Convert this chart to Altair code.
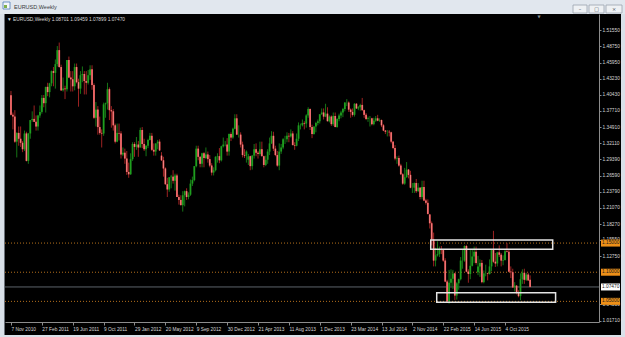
import altair as alt
import pandas as pd

# ---------------- data (EURUSD weekly) ----------------
opens = [1.4035,1.3700,1.3670,1.3240,1.3390,1.3290,1.3220,1.3110,1.3380,1.2910,
1.3380,1.3610,1.3630,1.3580,1.3500,1.3690,1.3750,1.3990,1.3900,1.4180,
1.4090,1.4240,1.4450,1.4420,1.4570,1.4810,1.4520,1.4120,1.4150,1.4140,
1.4640,1.4340,1.4310,1.4190,1.4520,1.4260,1.4150,1.4380,1.4400,1.4280,
1.4250,1.4380,1.4480,1.4210,1.3650,1.3790,1.3490,1.3390,1.3380,1.3880,
1.3900,1.4140,1.3780,1.3760,1.3520,1.3240,1.3390,1.3380,1.3020,1.3050,
1.2950,1.2720,1.2680,1.2940,1.3200,1.3150,1.3190,1.3140,1.3440,1.3200,
1.3110,1.3170,1.3270,1.3340,1.3100,1.3070,1.3210,1.3240,1.3000,1.2920,
1.2780,1.2510,1.2420,1.2630,1.2640,1.2570,1.2660,1.2290,1.2240,1.2150,
1.2320,1.2390,1.2290,1.2330,1.2520,1.2580,1.2820,1.3120,1.2980,1.2860,
1.3040,1.2960,1.3020,1.2940,1.2830,1.2710,1.2750,1.2980,1.2990,1.2920,
1.3160,1.3190,1.3190,1.3070,1.3370,1.3310,1.3460,1.3640,1.3360,1.3360,
1.3190,1.3010,1.3000,1.2930,1.2990,1.2820,1.3000,1.3110,1.3050,1.3030,
1.3110,1.2990,1.2840,1.2930,1.3070,1.3210,1.3340,1.3120,1.3010,1.2830,
1.3070,1.3140,1.3280,1.3280,1.3340,1.3330,1.3380,1.3180,1.3170,1.3290,
1.3520,1.3520,1.3560,1.3550,1.3690,1.3800,1.3490,1.3370,1.3500,1.3560,
1.3590,1.3710,1.3740,1.3670,1.3720,1.3590,1.3670,1.3540,1.3680,1.3490,
1.3630,1.3690,1.3740,1.3800,1.3910,1.3910,1.3790,1.3750,1.3700,1.3890,
1.3810,1.3830,1.3870,1.3780,1.3700,1.3630,1.3640,1.3640,1.3540,1.3600,
1.3640,1.3600,1.3610,1.3520,1.3430,1.3410,1.3410,1.3400,1.3240,1.3130,
1.2950,1.2960,1.2830,1.2680,1.2520,1.2630,1.2760,1.2670,1.2450,1.2450,
1.2530,1.2390,1.2450,1.2290,1.2460,1.2230,1.2190,1.1990,1.1840,1.1560,
1.1200,1.1290,1.1310,1.1390,1.1380,1.1200,1.0840,1.0500,1.0820,1.0890,
1.0980,1.0600,1.0810,1.0880,1.1200,1.1200,1.1450,1.1010,1.0970,1.1110,
1.1270,1.1350,1.1000,1.1100,1.1160,1.0830,1.0980,1.0980,1.0970,1.1100,
1.1380,1.1180,1.1150,1.1340,1.1300,1.1200,1.1210,1.1360,1.1350,1.1010,
1.1000,1.0740,1.0770,1.0650,1.0590,1.0880,1.0990,1.0870,1.0960,1.0870]

highs = [1.4110,1.3740,1.3780,1.3400,1.3500,1.3500,1.3250,1.3430,1.3410,1.3390,
1.3610,1.3760,1.3860,1.3690,1.3700,1.3860,1.4040,1.4040,1.4180,1.4250,
1.4250,1.4460,1.4520,1.4650,1.4880,1.4940,1.4560,1.4340,1.4200,1.4640,
1.4700,1.4450,1.4450,1.4580,1.4580,1.4320,1.4450,1.4530,1.4450,1.4450,
1.4470,1.4550,1.4550,1.4240,1.3920,1.3850,1.3670,1.3450,1.3910,1.3910,
1.4250,1.4170,1.3850,1.3800,1.3550,1.3550,1.3550,1.3420,1.3140,1.3120,
1.3080,1.2880,1.3040,1.3230,1.3230,1.3320,1.3250,1.3480,1.3490,1.3290,
1.3180,1.3290,1.3390,1.3390,1.3210,1.3210,1.3270,1.3280,1.3060,1.2980,
1.2800,1.2620,1.2630,1.2670,1.2750,1.2690,1.2690,1.2330,1.2320,1.2390,
1.2400,1.2440,1.2370,1.2590,1.2640,1.2820,1.3170,1.3170,1.2990,1.3050,
1.3060,1.3140,1.3070,1.3010,1.2870,1.2800,1.2990,1.3040,1.3130,1.3170,
1.3310,1.3250,1.3300,1.3380,1.3400,1.3480,1.3710,1.3710,1.3520,1.3400,
1.3240,1.3110,1.3090,1.3030,1.3000,1.3010,1.3200,1.3210,1.3080,1.3240,
1.3240,1.3000,1.3000,1.3110,1.3310,1.3420,1.3410,1.3170,1.3080,1.3210,
1.3200,1.3300,1.3340,1.3400,1.3390,1.3450,1.3420,1.3230,1.3380,1.3570,
1.3550,1.3620,1.3590,1.3710,1.3830,1.3810,1.3530,1.3500,1.3580,1.3620,
1.3710,1.3810,1.3810,1.3890,1.3830,1.3690,1.3690,1.3740,1.3740,1.3640,
1.3720,1.3770,1.3820,1.3920,1.3970,1.3930,1.3810,1.3810,1.3900,1.3900,
1.3850,1.3890,1.3990,1.3790,1.3730,1.3670,1.3680,1.3650,1.3650,1.3680,
1.3700,1.3640,1.3620,1.3540,1.3440,1.3440,1.3440,1.3410,1.3250,1.3180,
1.2990,1.3000,1.2860,1.2700,1.2790,1.2890,1.2770,1.2740,1.2530,1.2540,
1.2600,1.2530,1.2460,1.2570,1.2570,1.2260,1.2250,1.2000,1.1870,1.1680,
1.1420,1.1530,1.1440,1.1450,1.1390,1.1240,1.0870,1.1040,1.1050,1.1040,
1.0990,1.0830,1.0890,1.1260,1.1390,1.1460,1.1470,1.1050,1.1380,1.1390,
1.1440,1.1440,1.1280,1.1220,1.1210,1.1030,1.1130,1.0990,1.1220,1.1390,
1.1710,1.1330,1.1350,1.1460,1.1330,1.1290,1.1390,1.1500,1.1390,1.1100,
1.1060,1.0830,1.0780,1.0690,1.0980,1.1050,1.1060,1.0990,1.0990,1.0946]

lows = [1.3690,1.3450,1.3220,1.2969,1.3170,1.3150,1.3060,1.3080,1.2900,1.2860,
1.3290,1.3580,1.3580,1.3430,1.3430,1.3650,1.3720,1.3830,1.3740,1.4020,
1.4000,1.4190,1.4190,1.4150,1.4530,1.4510,1.4110,1.4100,1.3970,1.4100,
1.4330,1.4100,1.4100,1.4120,1.4240,1.3840,1.4060,1.4260,1.4050,1.4050,
1.4220,1.4300,1.4130,1.3630,1.3500,1.3360,1.3360,1.3140,1.3340,1.3650,
1.3790,1.3610,1.3480,1.3430,1.3210,1.3230,1.3260,1.2950,1.2990,1.2860,
1.2670,1.2620,1.2670,1.2910,1.2980,1.3100,1.2980,1.3140,1.3130,1.3080,
1.2990,1.3130,1.3260,1.3080,1.3000,1.3000,1.3110,1.3080,1.2910,1.2640,
1.2500,1.2290,1.2380,1.2440,1.2520,1.2400,1.2290,1.2160,1.2150,1.2040,
1.2130,1.2240,1.2250,1.2310,1.2480,1.2560,1.2800,1.2920,1.2800,1.2800,
1.2800,1.2940,1.2880,1.2800,1.2660,1.2660,1.2730,1.2880,1.2870,1.2900,
1.3140,1.3160,1.3000,1.3000,1.3250,1.3290,1.3450,1.3360,1.3310,1.3140,
1.2970,1.2960,1.2880,1.2840,1.2750,1.2760,1.2950,1.2990,1.2950,1.3000,
1.2990,1.2800,1.2820,1.2860,1.3010,1.3200,1.3080,1.2990,1.2810,1.2750,
1.3030,1.3110,1.3200,1.3230,1.3230,1.3310,1.3180,1.3100,1.3160,1.3250,
1.3450,1.3500,1.3450,1.3480,1.3650,1.3440,1.3300,1.3360,1.3400,1.3520,
1.3550,1.3700,1.3620,1.3660,1.3590,1.3570,1.3510,1.3510,1.3490,1.3480,
1.3590,1.3640,1.3660,1.3760,1.3850,1.3750,1.3650,1.3670,1.3670,1.3800,
1.3780,1.3770,1.3770,1.3650,1.3610,1.3580,1.3500,1.3520,1.3520,1.3580,
1.3590,1.3580,1.3490,1.3420,1.3370,1.3330,1.3330,1.3210,1.3110,1.2920,
1.2860,1.2810,1.2670,1.2500,1.2500,1.2620,1.2610,1.2440,1.2360,1.2360,
1.2360,1.2380,1.2250,1.2250,1.2220,1.2160,1.1990,1.1750,1.1460,1.1100,
1.1100,1.1270,1.1260,1.1310,1.1180,1.0830,1.0490,1.0460,1.0760,1.0710,
1.0520,1.0530,1.0700,1.0860,1.1060,1.1180,1.1000,1.0820,1.0880,1.1100,
1.1160,1.1130,1.0950,1.0920,1.0810,1.0810,1.0930,1.0860,1.0960,1.1020,
1.1160,1.1090,1.1100,1.1260,1.1100,1.1120,1.1200,1.1340,1.1000,1.0900,
1.0730,1.0670,1.0620,1.0570,1.0520,1.0800,1.0800,1.0850,1.0850,1.0740]

closes = [1.3700,1.3670,1.3240,1.3390,1.3290,1.3220,1.3110,1.3380,1.2910,1.3380,
1.3610,1.3630,1.3580,1.3500,1.3690,1.3750,1.3990,1.3900,1.4180,1.4090,
1.4240,1.4450,1.4420,1.4570,1.4810,1.4520,1.4120,1.4150,1.4140,1.4640,
1.4340,1.4310,1.4190,1.4520,1.4260,1.4150,1.4380,1.4400,1.4280,1.4250,
1.4380,1.4480,1.4210,1.3650,1.3790,1.3490,1.3390,1.3380,1.3880,1.3900,
1.4140,1.3780,1.3760,1.3520,1.3240,1.3390,1.3380,1.3020,1.3050,1.2950,
1.2720,1.2680,1.2940,1.3200,1.3150,1.3190,1.3140,1.3440,1.3200,1.3110,
1.3170,1.3270,1.3340,1.3100,1.3070,1.3210,1.3240,1.3090,1.2920,1.2780,
1.2510,1.2420,1.2630,1.2640,1.2570,1.2660,1.2290,1.2240,1.2150,1.2320,
1.2390,1.2290,1.2330,1.2520,1.2580,1.2820,1.3120,1.2980,1.2860,1.3040,
1.2960,1.3020,1.2940,1.2830,1.2710,1.2750,1.2980,1.2990,1.2920,1.3160,
1.3190,1.3190,1.3070,1.3370,1.3310,1.3460,1.3640,1.3360,1.3360,1.3190,
1.3010,1.3000,1.3070,1.2990,1.2820,1.3000,1.3110,1.3050,1.3030,1.3110,
1.2990,1.2840,1.2930,1.3070,1.3210,1.3340,1.3120,1.3010,1.2830,1.3070,
1.3140,1.3280,1.3280,1.3340,1.3330,1.3380,1.3180,1.3170,1.3290,1.3520,
1.3520,1.3560,1.3550,1.3690,1.3800,1.3490,1.3370,1.3500,1.3560,1.3590,
1.3710,1.3740,1.3670,1.3720,1.3590,1.3670,1.3540,1.3680,1.3490,1.3630,
1.3690,1.3740,1.3800,1.3910,1.3910,1.3790,1.3750,1.3700,1.3890,1.3810,
1.3830,1.3870,1.3780,1.3700,1.3630,1.3640,1.3640,1.3540,1.3600,1.3640,
1.3600,1.3610,1.3520,1.3430,1.3410,1.3410,1.3400,1.3240,1.3130,1.2950,
1.2960,1.2830,1.2680,1.2520,1.2630,1.2760,1.2670,1.2450,1.2450,1.2530,
1.2390,1.2450,1.2290,1.2460,1.2230,1.2190,1.2000,1.1840,1.1560,1.1200,
1.1290,1.1310,1.1390,1.1380,1.1200,1.0840,1.0500,1.0820,1.0890,1.0980,
1.0600,1.0810,1.0880,1.1200,1.1200,1.1450,1.1010,1.0970,1.1110,1.1270,
1.1350,1.1160,1.1100,1.1160,1.0830,1.0980,1.0980,1.0970,1.1100,1.1380,
1.1180,1.1150,1.1340,1.1300,1.1200,1.1210,1.1360,1.1350,1.1010,1.1000,
1.0740,1.0770,1.0650,1.0590,1.0880,1.0990,1.0870,1.0960,1.0860,1.0747]

date_labels = ["7 Nov 2010", "27 Feb 2011", "19 Jun 2011", "9 Oct 2011", "29 Jan 2012",
               "20 May 2012", "9 Sep 2012", "30 Dec 2012", "21 Apr 2013", "11 Aug 2013",
               "1 Dec 2013", "23 Mar 2014", "13 Jul 2014", "2 Nov 2014", "22 Feb 2015",
               "14 Jun 2015", "4 Oct 2015"]
date_ticks = [0, 16, 32, 48, 64, 80, 96, 112, 128, 144, 160, 176, 192, 208, 224, 240, 256]
price_ticks = [1.5155, 1.4875, 1.4595, 1.4323, 1.4043, 1.3771, 1.3491, 1.3211, 1.2939,
               1.2659, 1.2379, 1.2107, 1.1827, 1.1555, 1.1275, 1.0451, 1.0171]
level_prices = [1.15, 1.10, 1.05]
current_price = 1.0747
zone_start = [217.5, 220.6]
zone_end = [280.7, 282.2]
zone_top = [1.1553, 1.0649]
zone_bottom = [1.1394, 1.0484]
header_text = "\u25bc EURUSD,Weekly  1.08701 1.09459 1.07899 1.07470"
window_title = "EURUSD,Weekly"

# ---------------- tables ----------------
n = len(closes)
candles = pd.DataFrame({"i": list(range(n)), "open": opens, "high": highs,
                        "low": lows, "close": closes})
candles["dir"] = ["bull" if c >= o else "bear" for o, c in zip(opens, closes)]
levels = pd.DataFrame({"price": level_prices})
zones = pd.DataFrame({"x0": zone_start, "x1": zone_end, "top": zone_top, "bot": zone_bottom})
tags = pd.DataFrame({
    "price": level_prices + [current_price],
    "label": ["%.5f" % p for p in level_prices] + ["%.5f" % current_price],
    "kind": ["level", "level", "level", "bid"],
})
one = pd.DataFrame({"k": [0]})

W, H = 594, 308
FONT = "Liberation Sans"
xs = alt.Scale(domain=[-0.51, 302.1], nice=False, zero=False)
ys = alt.Scale(domain=[1.0146, 1.5430], nice=False, zero=False)

label_js = "[" + ",".join("'%s'" % s for s in date_labels) + "]"
xaxis = alt.Axis(values=date_ticks, labelExpr=label_js + "[round(datum.value/16)]",
                 labelAlign="left", labelBaseline="top", labelPadding=1, tickSize=3,
                 labelFont=FONT, labelFontSize=4.8, labelColor="#d6d6d6",
                 tickColor="#8c8c8c", domainColor="#8c8c8c", grid=False, title=None,
                 labelOverlap=False, labelFlush=False)
yaxis = alt.Axis(orient="right", values=price_ticks, format=".5f", labelAlign="left",
                 labelBaseline="middle", labelPadding=1, tickSize=2, labelFont=FONT,
                 labelFontSize=4.8, labelColor="#d6d6d6", tickColor="#8c8c8c",
                 domainColor="#8c8c8c", grid=False, title=None, labelOverlap=False,
                 labelFlush=False)

X = lambda f: alt.X(f, type="quantitative", scale=xs, axis=xaxis)
Y = lambda f: alt.Y(f, type="quantitative", scale=ys, axis=yaxis)

lvl = alt.Chart(levels).mark_rule(color="#b5701c", strokeDash=[1, 2], strokeWidth=1).encode(
    y=Y("price"), x=alt.value(0), x2=alt.value(W))
bid = alt.Chart(pd.DataFrame({"price": [current_price]})).mark_rule(
    color="#5c636b", strokeWidth=1).encode(y=Y("price"), x=alt.value(0), x2=alt.value(W))

cscale = alt.Scale(domain=["bull", "bear"], range=["#1f9e1f", "#e04848"])
wscale = alt.Scale(domain=["bull", "bear"], range=["#167516", "#9c2222"])
wick = alt.Chart(candles).mark_rule(strokeWidth=1).encode(
    x=X("i"), y=Y("low"), y2="high",
    color=alt.Color("dir:N", scale=wscale, legend=None))
body = alt.Chart(candles).mark_bar(size=1.8).encode(
    x=X("i"), y=Y("open"), y2="close",
    color=alt.Color("dir:N", scale=cscale, legend=None))
shine = alt.Chart(candles).transform_filter("datum.dir == 'bear'").mark_rule(
    strokeWidth=0.7, color="#ff9c9c").encode(x=X("i"), y=Y("open"), y2="close")

zone = alt.Chart(zones).mark_rect(fillOpacity=0, stroke="#e4e4e4", strokeWidth=1.5).encode(
    x=X("x0"), x2="x1", y=Y("top"), y2="bot")

head = alt.Chart(one).mark_text(text=header_text, align="left", baseline="middle",
                                font=FONT, fontSize=4.8, color="#d8d8d8").encode(
    x=alt.value(2), y=alt.value(6))

tagbox = alt.Chart(tags).transform_calculate(
    hi="datum.price + 0.0060", lo="datum.price - 0.0060").mark_rect().encode(
    x=alt.value(596), x2=alt.value(615), y=Y("hi"), y2="lo",
    color=alt.Color("kind:N", scale=alt.Scale(domain=["level", "bid"],
                                              range=["#ee9018", "#ffffff"]), legend=None))
tagtext = alt.Chart(tags).mark_text(align="left", baseline="middle", font=FONT,
                                    fontSize=4.8, color="#1a1a1a").encode(
    x=alt.value(597), y=Y("price"), text="label:N")

frame_bg = "#d9e0e8"
def box(x0, x1, y0, y1, fill, stroke=None):
    kw = {"fill": fill}
    if stroke:
        kw["stroke"] = stroke
        kw["strokeWidth"] = 0.8
    return alt.Chart(one).mark_rect(**kw).encode(
        x=alt.value(x0), x2=alt.value(x1), y=alt.value(y0), y2=alt.value(y1))

titlebar = box(-5, 620, -14, 0, "#e1e7ee")
leftbar = box(-5, -1, 0, 323, frame_bg)
leftline = box(-1, 0, 0, 323, "#6a7078")
rightbar = box(616, 620, 0, 323, frame_bg)
bottombar = box(-5, 620, 321, 323, frame_bg)
icon = box(-2, 5, -12, -5, "#f4f7fa", "#4f7fb6")
icon2 = box(-1, 2, -9, -6, "#7fb04a")
btn1 = box(568, 582, -9, -1, "#eef1f4", "#9aa3ad")
btn2 = box(584, 599, -9, -1, "#eef1f4", "#9aa3ad")
btn3 = box(601, 617, -9, -1, "#eef1f4", "#9aa3ad")

wtitle = alt.Chart(one).mark_text(text=window_title, align="left", baseline="middle",
                                  font=FONT, fontSize=5.5, color="#3a3a3a").encode(
    x=alt.value(9), y=alt.value(-7))
glyphs = alt.Chart(pd.DataFrame({"g": ["\u2013", "\u25a1", "\u00d7"], "x": [575, 591.5, 609]})).mark_text(
    align="center", baseline="middle", font="DejaVu Sans", fontSize=5, color="#404850").encode(
    x=alt.X("x:Q", scale=None), y=alt.value(-5), text="g:N")
shift = alt.Chart(one).mark_text(text="\u25bc", align="center", baseline="middle",
                                 font="DejaVu Sans", fontSize=4, color="#8a8f96").encode(
    x=alt.value(534), y=alt.value(2.5))

chart = alt.layer(
    lvl, bid, wick, body, shine, zone, head, tagbox, tagtext,
    titlebar, leftbar, leftline, rightbar, bottombar, icon, icon2,
    btn1, btn2, btn3, wtitle, glyphs, shift
).resolve_scale(color="independent").properties(
    width=W, height=H,
    padding={"left": 5, "top": 14, "right": 26, "bottom": 15},
    autosize=alt.AutoSizeParams(type="none"),
    background="#000000",
).configure_view(stroke=None, fill="#000000")

chart.save("out.html", embed_options={"renderer": "svg", "actions": False})
